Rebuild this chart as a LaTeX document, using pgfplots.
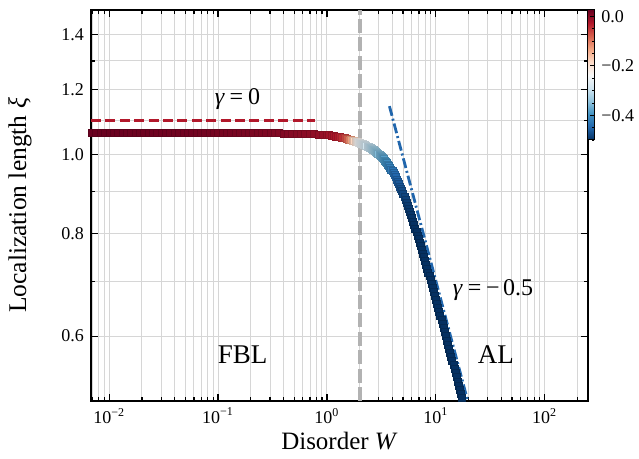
\documentclass[border=0pt]{standalone}
\usepackage{fontspec}
\setmainfont{Liberation Serif}
\usepackage{pgfplots}
\pgfplotsset{compat=1.18}
\usepackage{pgfplotstable}

\definecolor{gridgray}{RGB}{214,214,214}
\definecolor{rdbured}{RGB}{178,24,43}
\definecolor{rdbublue}{RGB}{33,102,172}
\definecolor{vlinegray}{RGB}{178,178,178}

% W, localization length xi, local exponent gamma (colour)
\pgfplotstableread{
W xi g
0.006310 1.0633 0.024
0.006918 1.0633 0.024
0.007586 1.0633 0.024
0.008318 1.0633 0.024
0.009120 1.0633 0.024
0.01000 1.0633 0.024
0.01096 1.0633 0.024
0.01202 1.0633 0.024
0.01318 1.0633 0.024
0.01445 1.0633 0.023
0.01585 1.0633 0.023
0.01738 1.0633 0.023
0.01905 1.0633 0.023
0.02089 1.0633 0.022
0.02291 1.0633 0.022
0.02512 1.0633 0.022
0.02754 1.0632 0.021
0.03020 1.0632 0.021
0.03311 1.0632 0.021
0.03631 1.0632 0.020
0.03981 1.0632 0.020
0.04365 1.0632 0.020
0.04786 1.0632 0.019
0.05248 1.0632 0.019
0.05754 1.0632 0.019
0.06310 1.0632 0.018
0.06918 1.0632 0.018
0.07586 1.0632 0.018
0.08318 1.0632 0.017
0.09120 1.0632 0.017
0.1000 1.0632 0.016
0.1096 1.0631 0.016
0.1202 1.0630 0.015
0.1318 1.0629 0.015
0.1445 1.0628 0.014
0.1585 1.0627 0.014
0.1738 1.0626 0.013
0.1905 1.0625 0.013
0.2089 1.0624 0.012
0.2291 1.0622 0.012
0.2512 1.0621 0.011
0.2754 1.0620 0.010
0.3020 1.0618 0.010
0.3311 1.0616 0.009
0.3631 1.0613 0.008
0.3981 1.0610 0.007
0.4365 1.0606 0.006
0.4786 1.0603 0.005
0.5248 1.0599 0.004
0.5754 1.0595 0.003
0.6310 1.0591 0.002
0.6918 1.0587 0.000
0.7586 1.0582 -0.002
0.8318 1.0576 -0.004
0.9120 1.0570 -0.007
1.000 1.0563 -0.010
1.047 1.0553 -0.013
1.096 1.0544 -0.016
1.148 1.0533 -0.019
1.202 1.0520 -0.022
1.259 1.0508 -0.025
1.318 1.0493 -0.032
1.380 1.0478 -0.042
1.445 1.0463 -0.055
1.514 1.0446 -0.072
1.585 1.0430 -0.095
1.660 1.0411 -0.125
1.738 1.0392 -0.160
1.778 1.0382 -0.178
1.820 1.0371 -0.195
1.862 1.0360 -0.210
1.905 1.0350 -0.225
1.950 1.0339 -0.238
1.995 1.0328 -0.250
2.042 1.0315 -0.256
2.089 1.0301 -0.262
2.138 1.0288 -0.268
2.188 1.0274 -0.274
2.239 1.0261 -0.280
2.291 1.0245 -0.286
2.344 1.0229 -0.292
2.399 1.0213 -0.298
2.455 1.0197 -0.304
2.512 1.0181 -0.310
2.570 1.0161 -0.316
2.630 1.0141 -0.322
2.692 1.0121 -0.328
2.754 1.0101 -0.334
2.818 1.0081 -0.340
2.884 1.0053 -0.346
2.951 1.0026 -0.352
3.020 0.9998 -0.358
3.090 0.9970 -0.364
3.162 0.9943 -0.370
3.236 0.9906 -0.376
3.311 0.9870 -0.382
3.388 0.9834 -0.388
3.467 0.9797 -0.394
3.548 0.9761 -0.400
3.631 0.9717 -0.406
3.715 0.9672 -0.412
3.802 0.9628 -0.418
3.890 0.9583 -0.424
3.981 0.9539 -0.430
4.074 0.9485 -0.436
4.169 0.9431 -0.441
4.266 0.9377 -0.446
4.365 0.9322 -0.451
4.467 0.9268 -0.456
4.571 0.9205 -0.461
4.677 0.9142 -0.465
4.786 0.9080 -0.469
4.898 0.9017 -0.473
5.012 0.8954 -0.477
5.129 0.8881 -0.480
5.248 0.8808 -0.483
5.370 0.8736 -0.486
5.495 0.8663 -0.488
5.623 0.8590 -0.490
5.754 0.8513 -0.492
5.888 0.8436 -0.494
6.026 0.8358 -0.496
6.166 0.8281 -0.498
6.310 0.8204 -0.499
6.457 0.8124 -0.500
6.607 0.8045 -0.500
6.761 0.7966 -0.500
6.918 0.7886 -0.500
7.079 0.7807 -0.500
7.244 0.7728 -0.500
7.413 0.7650 -0.500
7.586 0.7571 -0.500
7.762 0.7492 -0.500
7.943 0.7413 -0.500
8.128 0.7335 -0.500
8.318 0.7257 -0.500
8.511 0.7179 -0.500
8.710 0.7101 -0.500
8.913 0.7023 -0.500
9.120 0.6947 -0.500
9.333 0.6872 -0.500
9.550 0.6796 -0.500
9.772 0.6721 -0.500
10.00 0.6645 -0.500
10.23 0.6572 -0.500
10.47 0.6499 -0.500
10.72 0.6426 -0.500
10.96 0.6353 -0.500
11.22 0.6281 -0.500
11.48 0.6210 -0.500
11.75 0.6140 -0.500
12.02 0.6070 -0.500
12.30 0.5999 -0.500
12.59 0.5929 -0.500
12.88 0.5863 -0.500
13.18 0.5797 -0.500
13.49 0.5730 -0.500
13.80 0.5664 -0.500
14.13 0.5598 -0.500
14.45 0.5535 -0.500
14.79 0.5472 -0.500
15.14 0.5410 -0.500
15.49 0.5347 -0.500
15.85 0.5285 -0.500
16.22 0.5225 -0.500
16.60 0.5166 -0.500
16.98 0.5107 -0.500
17.38 0.5048 -0.500
17.78 0.4989 -0.500
18.20 0.4933 -0.500
18.62 0.4877 -0.500
}\curve

\begin{document}
\begin{tikzpicture}
\begin{axis}[
    name=ax,
    scale only axis,
    width=248.5pt, height=195.5pt,
    xmode=log, ymode=log,
    xmin=0.0068, xmax=250, ymin=0.5, ymax=1.5,
    xtick={0.01,0.1,1,10,100},
    xticklabels={10\textsuperscript{−2},10\textsuperscript{−1},10\textsuperscript{0},10\textsuperscript{1},10\textsuperscript{2}},
    minor xtick={0.007,0.008,0.009,0.02,0.03,0.04,0.05,0.06,0.07,0.08,0.09,0.2,0.3,0.4,0.5,0.6,0.7,0.8,0.9,2,3,4,5,6,7,8,9,20,30,40,50,60,70,80,90,200},
    ytick={0.6,0.8,1.0,1.2,1.4},
    yticklabels={0.6,0.8,1.0,1.2,1.4},
    minor ytick={0.5,0.7,0.9,1.1,1.3},
    tick align=inside, xtick pos=both, ytick pos=both,
    major tick length=3.5pt, minor tick length=2pt,
    every tick/.style={black, line width=0.6pt},
    axis line style={line width=1pt},
    grid=both,
    major grid style={gridgray, line width=0.5pt},
    minor grid style={gridgray, line width=0.5pt},
    tick label style={font=\fontsize{9}{10}\selectfont},
    xlabel={Disorder \textit{W}},
    ylabel={Localization length \textit{ξ}},
    every axis x label/.style={at={(rel axis cs:0.5,-0.1023)}, anchor=center, font=\fontsize{12.5}{14}\selectfont},
    every axis y label/.style={at={(rel axis cs:-0.1429,0.5)}, anchor=center, rotate=90, font=\fontsize{12.75}{14}\selectfont},
    colormap={RdBu}{rgb255=(5,48,97) rgb255=(33,102,172) rgb255=(67,147,195) rgb255=(146,197,222) rgb255=(209,229,240) rgb255=(247,247,247) rgb255=(253,219,199) rgb255=(244,165,130) rgb255=(214,96,77) rgb255=(178,24,43) rgb255=(103,0,31)},
    point meta min=-0.5, point meta max=0.026,
    colorbar,
    colorbar style={
        at={(1,1)}, anchor=north west, xshift=3.15pt, yshift=0.85pt,
        scale only axis, width=3.2pt, height=65pt,
        xmode=normal, ymode=normal, grid=none,
        xtick=\empty, minor xtick={},
        ytick={-0.4,-0.2,0}, yticklabels={−0.4,−0.2,0.0},
        minor ytick={-0.5,-0.45,-0.35,-0.3,-0.25,-0.15,-0.1,-0.05},
        tick align=inside, ytick pos=right, yticklabel pos=right,
        major tick length=2pt, minor tick length=1.2pt,
        every tick/.style={black, line width=0.4pt},
        axis line style={line width=0.5pt},
        tick label style={font=\fontsize{9}{10}\selectfont},
    },
]
\addplot[vlinegray, line width=2pt, dash pattern=on 7pt off 2.2pt, forget plot]
    coordinates {(2,0.5) (2,1.5)};
\addplot[rdbured, line width=1.4pt, dash pattern=on 5pt off 2.2pt, forget plot]
    coordinates {(0.0068,1.1) (0.77,1.1)};
\addplot[scatter, only marks, mark=square*, mark size=1.75pt,
    scatter src=explicit,
    scatter/use mapped color={draw=mapped color!85!black, fill=mapped color},
    mark options={line width=0.2pt}]
    table[x=W, y=xi, meta=g] {\curve};
\addplot[rdbublue, line width=1.4pt, dash pattern=on 5pt off 1.5pt on 1pt off 1.5pt, forget plot]
    coordinates {(3.75,1.1449) (20,0.4957)};
\node[anchor=base, font=\fontsize{12}{14}\selectfont] at (axis cs:0.1507,1.150) {\textit{γ}\hspace{0.2em}=\hspace{0.2em}0};
\node[anchor=base, font=\fontsize{12}{14}\selectfont] at (axis cs:33.6,0.673) {\textit{γ}\hspace{0.2em}=\hspace{0.2em}−\hspace{0.15em}0.5};
\node[anchor=base, font=\fontsize{13.5}{16}\selectfont] at (axis cs:0.168,0.555) {FBL};
\node[anchor=base, font=\fontsize{13.5}{16}\selectfont] at (axis cs:35.6,0.555) {AL};
\end{axis}
\pgfresetboundingbox
\path[use as bounding box] ([shift={(-45.5pt,-29pt)}]ax.south west) rectangle ([shift={(25.5pt,5pt)}]ax.north east);
\end{tikzpicture}
\end{document}
